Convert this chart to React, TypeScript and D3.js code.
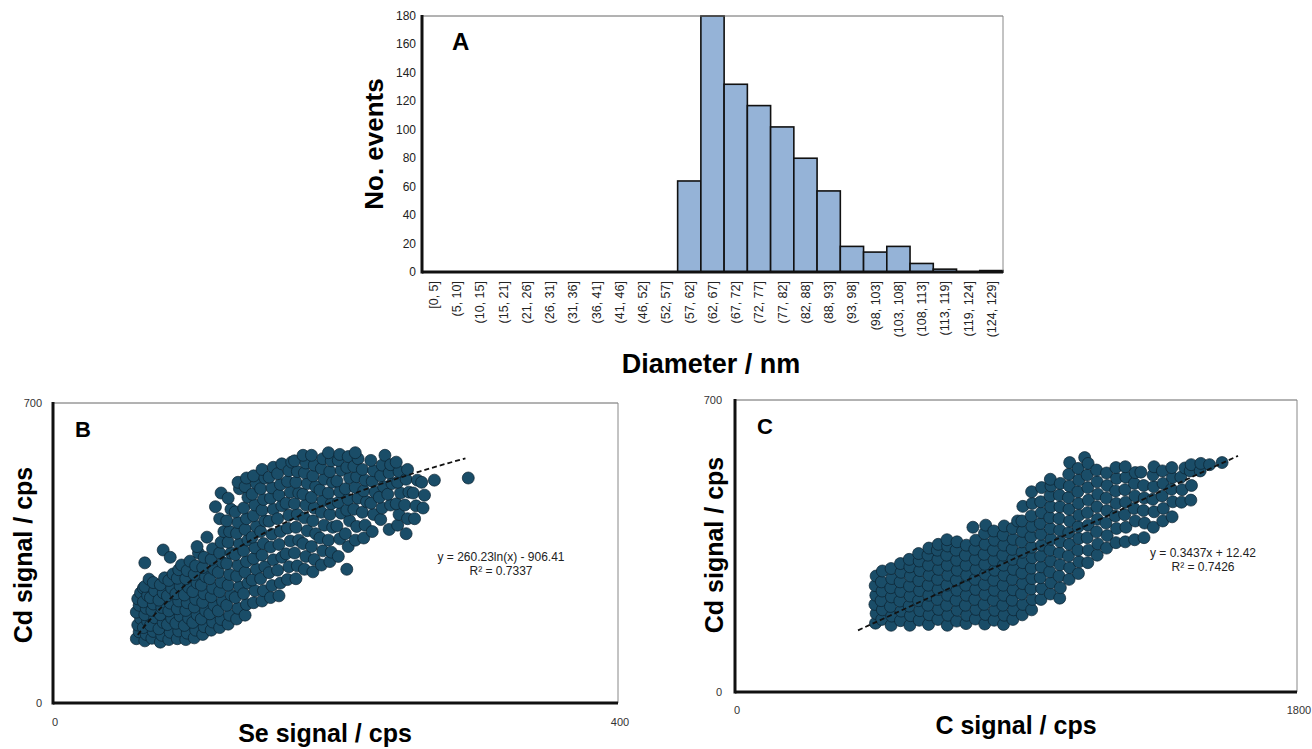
import React, { useEffect, useRef } from 'react';
import * as d3 from 'd3';

// Panel A - size distribution
const diameterBins = ['[0, 5]', '(5, 10]', '(10, 15]', '(15, 21]', '(21, 26]', '(26, 31]', '(31, 36]', '(36, 41]', '(41, 46]', '(46, 52]', '(52, 57]', '(57, 62]', '(62, 67]', '(67, 72]', '(72, 77]', '(77, 82]', '(82, 88]', '(88, 93]', '(93, 98]', '(98, 103]', '(103, 108]', '(108, 113]', '(113, 119]', '(119, 124]', '(124, 129]'];
const eventCounts = [0, 0, 0, 0, 0, 0, 0, 0, 0, 0, 0, 64, 180, 132, 117, 102, 80, 57, 18, 14, 18, 6, 2, 0, 1];
const countTicks = [0, 20, 40, 60, 80, 100, 120, 140, 160, 180];

// Panel B - Se vs Cd
const seCdPoints: [number, number][] = [
  [59,150],[61,166],[60,182],[62,197],[59,212],[61,228],[60,243],[62,257],[64,268],
  [65,145],[66,160],[64,176],[67,191],[65,206],[66,221],[64,236],[67,251],[65,272],[68,289],[65,327],
  [70,151],[71,167],[69,181],[72,199],[70,216],[71,231],[69,246],[72,262],[71,281],
  [76,142],[77,158],[75,173],[78,188],[76,206],[77,223],[75,240],[78,257],[76,276],[79,292],[78,357],
  [82,148],[83,165],[81,183],[84,198],[82,215],[83,233],[81,250],[84,268],[82,286],[85,301],[83,340],
  [88,150],[89,168],[87,186],[90,203],[88,220],[89,238],[87,255],[90,273],[88,291],[89,311],[91,322],
  [94,148],[95,163],[93,181],[96,198],[94,216],[95,234],[93,252],[96,270],[94,290],[95,309],[97,331],
  [100,152],[101,170],[99,188],[102,206],[100,224],[101,242],[99,260],[102,280],[100,300],[101,320],[103,350],[102,365],
  [106,160],[107,178],[105,196],[108,215],[106,235],[107,255],[105,275],[108,295],[106,316],[107,340],[109,387],
  [112,170],[113,189],[111,208],[114,228],[112,248],[113,268],[111,290],[114,312],[112,335],[113,360],[115,458],
  [118,176],[119,195],[117,215],[120,238],[118,260],[119,282],[117,305],[120,328],[118,350],[119,375],[121,400],[118,430],[119,490],
  [124,184],[125,205],[123,228],[126,252],[124,275],[125,300],[123,325],[126,350],[124,375],[125,400],[123,425],[126,452],[124,478],
  [130,196],[131,221],[129,246],[132,271],[130,296],[131,321],[129,346],[132,371],[130,396],[131,421],[129,446],[132,500],[131,515],
  [136,205],[137,230],[135,255],[138,280],[136,305],[137,330],[135,355],[138,380],[136,405],[137,430],[135,455],[138,480],[136,505],[137,525],
  [142,234],[143,262],[141,287],[144,312],[142,337],[143,362],[141,387],[144,412],[142,437],[143,462],[141,487],[144,512],[142,530],
  [148,238],[149,262],[147,290],[150,318],[148,345],[149,372],[147,400],[150,425],[148,450],[149,475],[147,500],[150,525],[148,545],
  [154,246],[155,274],[153,304],[156,334],[154,364],[155,394],[153,424],[156,452],[154,478],[155,502],[153,527],[156,550],
  [160,250],[161,280],[159,310],[162,340],[160,370],[161,400],[159,430],[162,460],[160,485],[161,510],[159,535],[162,558],
  [166,288],[167,318],[165,348],[168,378],[166,408],[167,438],[165,466],[168,492],[166,517],[167,542],[169,562],
  [172,290],[173,320],[171,350],[174,380],[172,410],[173,440],[171,465],[174,490],[172,515],[173,540],[171,565],
  [178,312],[179,342],[177,372],[180,402],[178,432],[179,462],[177,487],[180,512],[178,537],[179,560],[177,578],
  [184,306],[185,335],[183,365],[186,395],[184,425],[185,455],[183,480],[186,505],[184,530],[185,555],[183,578],
  [190,322],[191,355],[189,385],[192,415],[190,445],[191,472],[189,497],[192,522],[190,547],[191,570],
  [196,330],[197,352],[195,380],[198,410],[196,440],[197,465],[195,490],[198,515],[196,540],[197,565],[195,584],
  [202,342],[203,383],[201,413],[204,443],[202,468],[203,493],[201,518],[204,543],[202,566],[203,580],
  [208,312],[209,365],[207,395],[210,425],[208,450],[209,475],[207,500],[210,525],[208,550],[209,575],
  [214,380],[215,412],[213,452],[216,478],[214,503],[215,528],[213,552],[216,570],[214,584],
  [220,385],[221,415],[219,445],[222,470],[220,495],[221,520],[219,545],
  [226,400],[227,440],[225,466],[228,492],[226,517],[227,542],[225,566],
  [232,428],[233,455],[231,480],[234,505],[232,530],[233,555],[235,578],
  [238,405],[239,462],[237,487],[240,512],[238,537],[239,556],
  [244,415],[245,440],[243,465],[246,490],[244,515],[245,540],[243,562],
  [250,395],[251,430],[249,462],[252,492],[250,522],[251,545],
  [256,430],[257,460],[255,490],[258,520],
  [262,455],[263,485],[261,515],
  [270,520],[294,525],
];

// Panel C - C vs Cd
const cCdPoints: [number, number][] = [
  [450,165],[452,188],[448,210],[451,232],[449,255],[452,278],
  [470,174],[472,197],[468,219],[471,242],[469,264],[472,290],
  [500,160],[502,182],[498,205],[501,228],[499,250],[502,272],[500,296],
  [530,171],[532,194],[528,218],[531,241],[529,264],[532,287],[530,308],
  [560,160],[562,183],[558,206],[561,230],[559,254],[562,278],[560,300],[558,318],
  [590,172],[592,195],[588,219],[591,243],[589,267],[592,291],[590,314],[588,332],
  [620,162],[622,185],[618,208],[621,232],[619,256],[622,280],[620,304],[618,328],[621,345],
  [650,174],[652,198],[648,222],[651,246],[649,270],[652,294],[650,318],[648,340],[651,354],
  [680,160],[682,184],[678,208],[681,232],[679,256],[682,280],[680,304],[678,328],[681,350],[679,365],
  [710,170],[712,196],[708,220],[711,244],[709,268],[712,292],[710,316],[708,340],[711,360],
  [740,164],[742,184],[738,208],[741,232],[739,256],[742,280],[740,304],[738,328],[741,352],
  [770,175],[772,198],[768,222],[771,246],[769,270],[772,294],[770,318],[768,342],[771,364],[762,395],
  [800,163],[802,186],[798,210],[801,234],[799,258],[802,282],[800,306],[798,330],[801,354],[799,380],[803,400],
  [830,172],[832,196],[828,220],[831,244],[829,268],[832,292],[830,316],[828,340],[831,364],[829,386],
  [860,162],[862,184],[858,208],[861,232],[859,256],[862,280],[860,304],[858,328],[861,352],[859,376],[862,398],
  [890,174],[892,197],[888,220],[891,245],[889,270],[892,294],[890,318],[888,342],[891,366],[889,392],[905,410],
  [920,185],[922,210],[918,235],[921,260],[919,285],[922,310],[920,335],[918,360],[921,385],[919,410],[922,445],
  [950,197],[952,222],[948,247],[951,272],[949,297],[952,322],[950,347],[948,372],[951,397],[949,422],[952,452],[950,480],
  [980,222],[982,248],[978,274],[981,300],[979,326],[982,352],[980,378],[978,404],[981,430],[979,456],[982,490],
  [1010,235],[1012,262],[1008,288],[1011,314],[1009,340],[1012,366],[1010,392],[1008,418],[1011,444],[1009,470],[1012,494],[1010,510],
  [1040,225],[1042,250],[1038,278],[1041,305],[1039,333],[1042,360],[1040,388],[1038,416],[1041,444],[1039,472],[1042,500],
  [1070,270],[1072,298],[1068,326],[1071,354],[1069,382],[1072,410],[1070,438],[1068,466],[1071,494],[1069,522],[1072,550],
  [1100,284],[1102,312],[1098,340],[1101,368],[1099,396],[1102,424],[1100,452],[1098,480],[1101,508],[1099,536],[1120,562],
  [1130,310],[1132,340],[1128,370],[1131,400],[1129,430],[1132,460],[1130,490],[1128,520],[1131,548],
  [1160,328],[1162,355],[1158,384],[1161,414],[1159,444],[1162,474],[1160,504],[1158,532],
  [1190,345],[1192,375],[1188,405],[1191,435],[1189,465],[1192,495],[1190,525],
  [1220,358],[1222,392],[1218,422],[1221,452],[1219,482],[1222,512],[1220,538],
  [1250,360],[1252,395],[1248,425],[1251,455],[1249,485],[1252,515],[1250,540],
  [1280,365],[1282,410],[1278,440],[1281,470],[1279,500],[1282,526],
  [1310,370],[1312,405],[1308,435],[1311,465],[1309,495],[1300,527],
  [1340,395],[1342,432],[1338,462],[1341,492],[1339,520],[1342,540],
  [1370,410],[1372,440],[1368,470],[1371,500],[1369,530],
  [1400,420],[1402,456],[1398,486],[1401,514],[1399,538],
  [1430,455],[1432,485],[1428,515],[1441,537],
  [1460,460],[1462,495],[1458,530],[1461,545],
  [1490,530],[1492,548],
  [1520,545],[1560,550],
];

// fitted trendlines as printed on the chart
const fitB = { a: 260.23, b: -906.41, from: 60, to: 294 };
const fitC = { m: 0.3437, c: 12.42, from: 394, to: 1611 };

const FONT = 'Liberation Sans, Arial, Helvetica, sans-serif';
const BAR_FILL = '#95b3d7';
const DOT_FILL = '#1a4d68';

function drawFrame(g, left, right, top, bottom) {
  g.append('line').attr('x1', left).attr('x2', right).attr('y1', top).attr('y2', top)
    .attr('stroke', '#666').attr('stroke-width', 1);
  g.append('line').attr('x1', right).attr('x2', right).attr('y1', top).attr('y2', bottom)
    .attr('stroke', '#888').attr('stroke-width', 1);
  g.append('line').attr('x1', left).attr('x2', right).attr('y1', bottom).attr('y2', bottom)
    .attr('stroke', '#111').attr('stroke-width', 3);
  g.append('line').attr('x1', left).attr('x2', left).attr('y1', top - 1).attr('y2', bottom + 1.5)
    .attr('stroke', '#111').attr('stroke-width', 3);
}

function drawScatter(svg, cfg) {
  const g = svg.append('g');
  const x = d3.scaleLinear().domain([0, cfg.xMax]).range([cfg.left, cfg.right]);
  const y = d3.scaleLinear().domain([0, 700]).range([cfg.bottom, cfg.top]);

  drawFrame(g, cfg.left, cfg.right, cfg.top, cfg.bottom);

  g.append('g').selectAll('circle')
    .data(cfg.points)
    .join('circle')
    .attr('cx', d => x(d[0]))
    .attr('cy', d => y(d[1]))
    .attr('r', 6)
    .attr('fill', DOT_FILL)
    .attr('stroke', '#0b2230')
    .attr('stroke-width', 0.7);

  const line = d3.line().x(d => x(d[0])).y(d => y(d[1]));
  g.append('path')
    .datum(cfg.fitLine)
    .attr('d', line)
    .attr('fill', 'none')
    .attr('stroke', '#111')
    .attr('stroke-width', 1.8)
    .attr('stroke-dasharray', '5,3');

  // tick labels (only the ends are labelled)
  const tickStyle = sel => sel.attr('font-family', FONT).attr('font-size', 11).attr('fill', '#333');
  g.append('text').attr('x', cfg.yTickX).attr('y', y(700) + 4).attr('text-anchor', 'end').text('700').call(tickStyle);
  g.append('text').attr('x', cfg.yTickX).attr('y', y(0) + 4).attr('text-anchor', 'end').text('0').call(tickStyle);
  g.append('text').attr('x', x(0) + 2).attr('y', cfg.xTickY).attr('text-anchor', 'middle').text('0').call(tickStyle);
  g.append('text').attr('x', x(cfg.xMax) + 2).attr('y', cfg.xTickY).attr('text-anchor', 'middle').text(String(cfg.xMax)).call(tickStyle);

  g.append('text').attr('x', cfg.left + 22).attr('y', cfg.top + 34)
    .attr('font-family', FONT).attr('font-size', 22).attr('font-weight', 'bold').text(cfg.panel);

  g.append('text')
    .attr('transform', `translate(${cfg.yLabelX},${(cfg.top + cfg.bottom) / 2 + cfg.yLabelShift}) rotate(-90)`)
    .attr('text-anchor', 'middle')
    .attr('font-family', FONT).attr('font-size', 25).attr('font-weight', 'bold')
    .text('Cd signal / cps');

  g.append('text')
    .attr('x', cfg.xLabelX).attr('y', cfg.xLabelY)
    .attr('text-anchor', 'middle')
    .attr('font-family', FONT).attr('font-size', 25).attr('font-weight', 'bold')
    .text(cfg.xLabel);

  const eq = g.append('text').attr('font-family', FONT).attr('font-size', 12).attr('fill', '#222').attr('text-anchor', 'middle');
  eq.append('tspan').attr('x', cfg.eqX).attr('y', cfg.eqY).text(cfg.eq);
  eq.append('tspan').attr('x', cfg.eqX).attr('y', cfg.eqY + 14).text(cfg.r2);
}

const App = () => {
  const ref = useRef(null);

  useEffect(() => {
    const svg = d3.select(ref.current);
    svg.selectAll('*').remove();

    // ---------- Panel A ----------
    const margin = { left: 422, right: 1003, top: 16, bottom: 272 };
    const xBand = d3.scaleBand().domain(diameterBins).range([margin.left, margin.right]).padding(0);
    const yCount = d3.scaleLinear().domain([0, 180]).range([margin.bottom, margin.top]);

    const gA = svg.append('g');
    gA.append('g').selectAll('rect')
      .data(diameterBins.map((b, i) => ({ bin: b, value: eventCounts[i] })).filter(d => d.value > 0))
      .join('rect')
      .attr('x', d => xBand(d.bin))
      .attr('y', d => yCount(d.value))
      .attr('width', xBand.bandwidth())
      .attr('height', d => yCount(0) - yCount(d.value))
      .attr('fill', BAR_FILL)
      .attr('stroke', '#111')
      .attr('stroke-width', 1.6);

    drawFrame(gA, margin.left, margin.right, margin.top, margin.bottom);

    gA.append('g').selectAll('text')
      .data(countTicks)
      .join('text')
      .attr('x', margin.left - 6)
      .attr('y', d => yCount(d) + 4)
      .attr('text-anchor', 'end')
      .attr('font-family', FONT).attr('font-size', 12).attr('fill', '#222')
      .text(d => d);

    gA.append('g').selectAll('text')
      .data(diameterBins)
      .join('text')
      .attr('transform', d => `translate(${xBand(d) + xBand.bandwidth() / 2},${margin.bottom + 9}) rotate(-90)`)
      .attr('dy', '0.35em')
      .attr('text-anchor', 'end')
      .attr('font-family', FONT).attr('font-size', 12.5).attr('fill', '#222')
      .text(d => d);

    gA.append('text').attr('x', 452).attr('y', 50)
      .attr('font-family', FONT).attr('font-size', 24).attr('font-weight', 'bold').text('A');

    gA.append('text')
      .attr('transform', `translate(383,${(margin.top + margin.bottom) / 2}) rotate(-90)`)
      .attr('text-anchor', 'middle')
      .attr('font-family', FONT).attr('font-size', 26).attr('font-weight', 'bold')
      .text('No. events');

    gA.append('text').attr('x', 711).attr('y', 373).attr('text-anchor', 'middle')
      .attr('font-family', FONT).attr('font-size', 27).attr('font-weight', 'bold')
      .text('Diameter / nm');

    // ---------- Panel B ----------
    const bLine = d3.range(fitB.from, fitB.to + 1, 4).map(v => [v, fitB.a * Math.log(v) + fitB.b]);
    drawScatter(svg, {
      panel: 'B', left: 53, right: 618, top: 403, bottom: 703, xMax: 400,
      points: seCdPoints, fitLine: bLine,
      yTickX: 42, xTickY: 726, yLabelX: 32, yLabelShift: 2,
      xLabel: 'Se signal / cps', xLabelX: 325, xLabelY: 742,
      eq: 'y = 260.23ln(x) - 906.41', r2: 'R² = 0.7337', eqX: 501, eqY: 561,
    });

    // ---------- Panel C ----------
    const cLine = [fitC.from, fitC.to].map(v => [v, fitC.m * v + fitC.c]);
    drawScatter(svg, {
      panel: 'C', left: 735, right: 1297, top: 400, bottom: 692, xMax: 1800,
      points: cCdPoints, fitLine: cLine,
      yTickX: 722, xTickY: 714, yLabelX: 723, yLabelShift: -1,
      xLabel: 'C signal / cps', xLabelX: 1016, xLabelY: 734,
      eq: 'y = 0.3437x + 12.42', r2: 'R² = 0.7426', eqX: 1203, eqY: 557,
    });
  }, []);

  return (
    <div style={{ position: 'absolute', left: 0, top: 0 }}>
      <svg ref={ref} width={1312} height={749} style={{ display: 'block', background: '#fff' }}></svg>
    </div>
  );
};

export default App;
